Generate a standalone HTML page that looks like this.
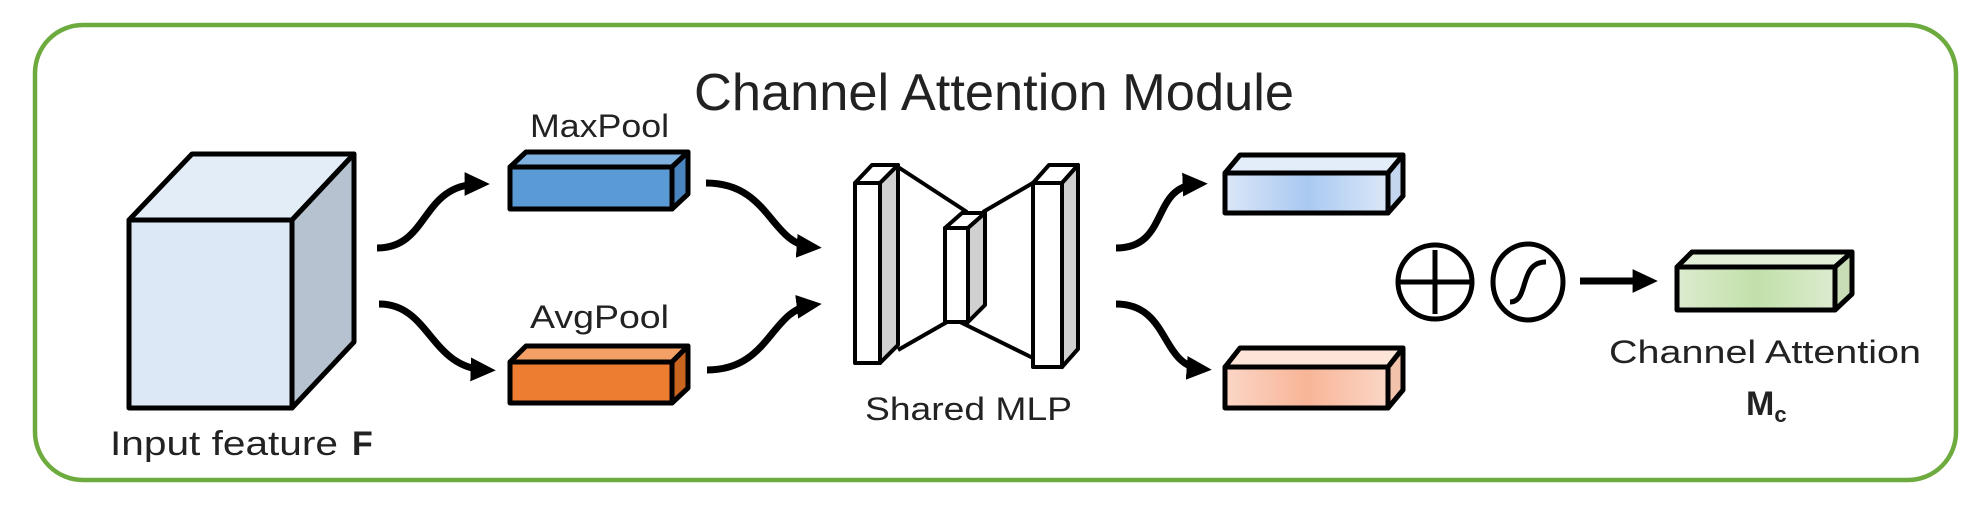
<!DOCTYPE html>
<html><head><meta charset="utf-8"><style>
html,body{margin:0;padding:0;background:#fff;}
svg{display:block;}
text{font-family:"Liberation Sans","DejaVu Sans",sans-serif;fill:#222;}
</style></head><body>
<svg width="1981" height="507" viewBox="0 0 1981 507" xmlns="http://www.w3.org/2000/svg">
<defs>
<marker id="ah" markerWidth="4" markerHeight="4" refX="2.2" refY="2" orient="auto" markerUnits="strokeWidth">
<path d="M0,0.3 L3.6,2 L0,3.7 Z" fill="#000"/></marker>
<linearGradient id="gb" x1="0" x2="1"><stop offset="0" stop-color="#dbe7f7"/><stop offset="0.5" stop-color="#a9c9f2"/><stop offset="1" stop-color="#dbe7f7"/></linearGradient>
<linearGradient id="go" x1="0" x2="1"><stop offset="0" stop-color="#fbd6c6"/><stop offset="0.5" stop-color="#f8b597"/><stop offset="1" stop-color="#fbd6c6"/></linearGradient>
<linearGradient id="gg" x1="0" x2="1"><stop offset="0" stop-color="#dcebcf"/><stop offset="0.5" stop-color="#c2e0aa"/><stop offset="1" stop-color="#dcebcf"/></linearGradient>
</defs>
<rect x="35" y="25" width="1921" height="455" rx="48" ry="48" fill="none" stroke="#6eab3f" stroke-width="4.5"/>
<text x="694" y="110" font-size="52" textLength="600" lengthAdjust="spacingAndGlyphs">Channel Attention Module</text>

<g stroke="#000" stroke-width="5" stroke-linejoin="round">
<polygon points="129,220 192,154 354,154 292,220" fill="#e3edf8"/>
<polygon points="292,220 354,154 354,342 292,408" fill="#b6c2cf"/>
<rect x="129" y="220" width="163" height="188" fill="#dce8f5"/>
<polygon points="510,167 526,152 688,152 672,167" fill="#7fb1e0"/>
<polygon points="672,167 688,152 688,194 672,209" fill="#4a84bf"/>
<rect x="510" y="167" width="162" height="42" fill="#5b9bd5"/>
<polygon points="510,362 526,346 688,346 672,362" fill="#f3a067"/>
<polygon points="672,362 688,346 688,388 672,403" fill="#c9651f"/>
<rect x="510" y="362" width="162" height="41" fill="#ed7d31"/>
</g>
<text x="530" y="137" font-size="32" textLength="139" lengthAdjust="spacingAndGlyphs">MaxPool</text>
<text x="530" y="328" font-size="32" textLength="139" lengthAdjust="spacingAndGlyphs">AvgPool</text>
<text x="110" y="455" font-size="34" textLength="228" lengthAdjust="spacingAndGlyphs">Input feature</text>
<text x="352" y="455" font-size="34" font-weight="bold">F</text>

<g fill="none" stroke="#000" stroke-width="7" marker-end="url(#ah)">
<path d="M377,248 C430,248 420,184 480,184"/>
<path d="M379,304 C430,304 430,368 486,370"/>
<path d="M706,183 C770,183 770,244 812,247"/>
<path d="M707,370 C770,370 770,310 812,305"/>
<path d="M1116,248 C1170,248 1150,186 1198,184"/>
<path d="M1116,304 C1170,304 1160,366 1202,369"/>
<path d="M1580,281 L1648,281"/>
</g>

<g stroke="#000" stroke-width="4" stroke-linejoin="round">
<line x1="898" y1="167" x2="967" y2="212"/>
<line x1="898" y1="350" x2="947" y2="322"/>
<line x1="983" y1="212" x2="1038" y2="180"/>
<line x1="960" y1="322" x2="1033" y2="358"/>
<polygon points="855,183 872,165 898,165 880,183" fill="#fff"/>
<polygon points="880,183 898,165 898,345 880,363" fill="#d0d0d0"/>
<rect x="855" y="183" width="25" height="180" fill="#fff"/>
<polygon points="945,228 962,213 985,213 968,228" fill="#fff"/>
<polygon points="968,228 985,213 985,305 968,322" fill="#d0d0d0"/>
<rect x="945" y="228" width="23" height="94" fill="#fff"/>
<polygon points="1033,183 1049,165 1078,165 1062,183" fill="#fff"/>
<polygon points="1062,183 1078,165 1078,349 1062,367" fill="#d0d0d0"/>
<rect x="1033" y="183" width="29" height="184" fill="#fff"/>
</g>
<text x="865" y="420" font-size="32" textLength="207" lengthAdjust="spacingAndGlyphs">Shared MLP</text>

<g stroke="#000" stroke-width="5" stroke-linejoin="round">
<polygon points="1225,173 1240,155 1403,155 1388,173" fill="#e3edf9"/>
<polygon points="1388,173 1403,155 1403,196 1388,213" fill="#c3d6ee"/>
<rect x="1225" y="173" width="163" height="40" fill="url(#gb)"/>
<polygon points="1225,367 1240,348 1403,348 1388,367" fill="#fde4d8"/>
<polygon points="1388,367 1403,348 1403,390 1388,408" fill="#f3c2ab"/>
<rect x="1225" y="367" width="163" height="41" fill="url(#go)"/>
<polygon points="1677,267 1692,252 1852,252 1835,267" fill="#e3f0d8"/>
<polygon points="1835,267 1852,252 1852,294 1835,310" fill="#c8ddb6"/>
<rect x="1677" y="267" width="158" height="43" fill="url(#gg)"/>
<circle cx="1435" cy="282" r="37" fill="#fff"/>
<line x1="1435" y1="250" x2="1435" y2="314"/>
<line x1="1400" y1="282" x2="1470" y2="282"/>
<ellipse cx="1528" cy="282" rx="35" ry="38" fill="#fff"/>
<path d="M1510,302 C1530,302 1518,262 1546,262" fill="none"/>
</g>
<text x="1609" y="363" font-size="32" textLength="312" lengthAdjust="spacingAndGlyphs">Channel Attention</text>
<text x="1746" y="415" font-size="34" font-weight="bold">M<tspan font-size="22" dy="7">c</tspan></text>
</svg>
</body></html>
